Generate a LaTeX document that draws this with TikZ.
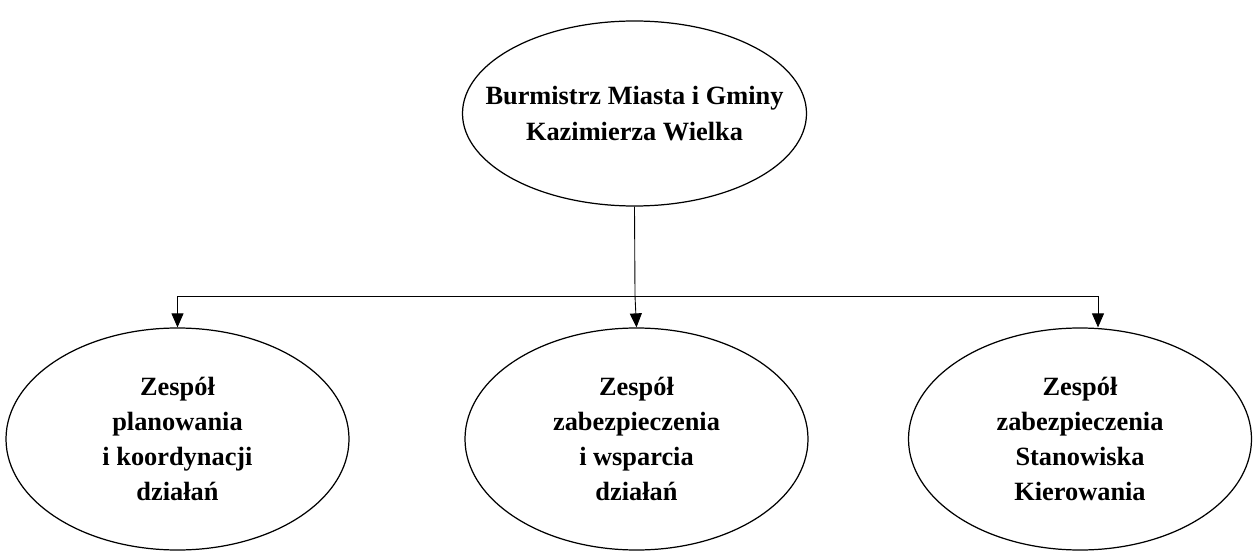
\documentclass[tikz,border=0pt]{standalone}
\usepackage{fontspec}
\setmainfont{Liberation Serif}
\usetikzlibrary{shapes.geometric, arrows.meta}

\begin{document}
\begin{tikzpicture}[
            oval/.style={draw, ellipse, line width=0.7pt, inner sep=0pt, minimum width=6.86cm, minimum height=4.44cm},
            txt/.style={align=center, font=\fontsize{15}{20}\selectfont\bfseries},
            arr/.style={-{Triangle[length=2.8mm, width=2.4mm]}, line width=0.5pt}
        ]
            \useasboundingbox (0,0) rectangle (25.08,11.02);

            % Top: the mayor
            \node[oval, minimum width=6.88cm, minimum height=3.70cm,
                label={[txt]center:{Burmistrz Miasta i Gminy\\Kazimierza Wielka}}] (mayor) at (12.69,8.75) {};

            % Bottom row: the three teams
            \node[oval, label={[txt]center:{Zespół\\planowania\\i koordynacji\\działań}}] (plan) at (3.55,2.24) {};
            \node[oval, label={[txt]center:{Zespół\\zabezpieczenia\\i wsparcia\\działań}}] (supp) at (12.73,2.24) {};
            \node[oval, label={[txt]center:{Zespół\\zabezpieczenia\\Stanowiska\\Kierowania}}] (ops) at (21.60,2.24) {};

            % Branching line
            \coordinate (bus) at (12.70,5.10);
            \draw[line width=0.5pt] (mayor.south) -- (bus);
            \draw[arr] (bus) -| (plan.north);
            \draw[arr] (bus) -- (supp.north);
            \draw[arr] (bus) -| ([xshift=3.6mm]ops.north);
        \end{tikzpicture}
\end{document}
